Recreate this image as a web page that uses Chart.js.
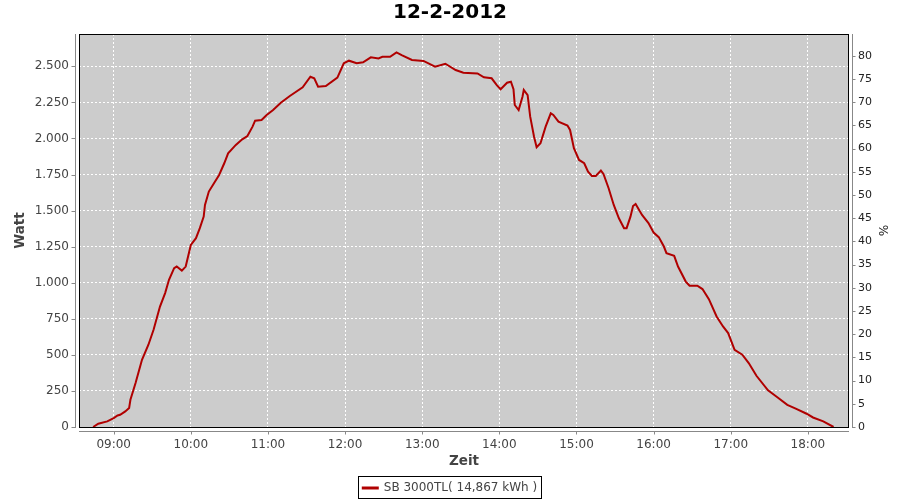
<!DOCTYPE html>
<html>
<head>
<meta charset="utf-8">
<title>12-2-2012</title>
<script src="https://cdn.jsdelivr.net/npm/chart.js@4.4.0/dist/chart.umd.min.js"></script>
<style>
  html, body { margin: 0; padding: 0; background: #fff; }
</style>
</head>
<body>
<canvas id="myChart" width="900" height="500"></canvas>
<script>
// values
const chartTitle = "12-2-2012";
const seriesName = "SB 3000TL( 14,867 kWh )";

const times = [
  "08:44", "08:48", "08:55", "09:00", "09:03", "09:05", "09:09", "09:12", "09:13", "09:17",
  "09:22", "09:27", "09:31", "09:36", "09:40", "09:43", "09:47", "09:49", "09:53", "09:56",
  "10:00", "10:04", "10:07", "10:10", "10:11", "10:14", "10:18", "10:22", "10:26", "10:29",
  "10:35", "10:40", "10:44", "10:48", "10:50", "10:55", "10:59", "11:04", "11:10", "11:17",
  "11:27", "11:33", "11:36", "11:39", "11:45", "11:54", "11:59", "12:03", "12:09", "12:14",
  "12:20", "12:26", "12:29", "12:35", "12:40", "12:44", "12:52", "13:01", "13:10", "13:18",
  "13:26", "13:32", "13:43", "13:48", "13:54", "13:58", "14:01", "14:06", "14:09", "14:11",
  "14:12", "14:15", "14:18", "14:19", "14:22", "14:24", "14:27", "14:29", "14:32", "14:36",
  "14:40", "14:42", "14:46", "14:53", "14:55", "14:58", "15:02", "15:06", "15:09", "15:12",
  "15:15", "15:19", "15:21", "15:25", "15:29", "15:33", "15:37", "15:39", "15:42", "15:44",
  "15:46", "15:51", "15:56", "16:00", "16:04", "16:08", "16:10", "16:16", "16:19", "16:25",
  "16:28", "16:34", "16:38", "16:43", "16:49", "16:54", "16:58", "17:03", "17:09", "17:14",
  "17:20", "17:29", "17:36", "17:44", "17:51", "17:59", "18:04", "18:12", "18:20"
];

const watt = [
  0, 23, 39, 62, 80, 85, 108, 132, 189, 305,
  466, 570, 674, 835, 928, 1020, 1101, 1112, 1084, 1112,
  1262, 1309, 1378, 1458, 1539, 1632, 1690, 1747, 1828, 1897,
  1955, 1994, 2017, 2082, 2123, 2128, 2163, 2197, 2248, 2294,
  2355, 2428, 2417, 2359, 2364, 2422, 2521, 2539, 2521, 2528,
  2562, 2555, 2566, 2566, 2597, 2578, 2544, 2537, 2497, 2518,
  2474, 2456, 2451, 2424, 2417, 2370, 2341, 2386, 2393, 2341,
  2232, 2197, 2289, 2336, 2301, 2151, 2012, 1939, 1967, 2082,
  2174, 2163, 2116, 2090, 2059, 1932, 1851, 1828, 1770, 1740,
  1740, 1777, 1754, 1655, 1539, 1447, 1378, 1378, 1458, 1532,
  1546, 1470, 1413, 1348, 1316, 1251, 1205, 1186, 1112, 1008,
  979, 979, 956, 886, 766, 697, 651, 535, 501, 443,
  355, 254, 208, 154, 125, 92, 66, 39, 0
];

const hourTicks = ["09:00", "10:00", "11:00", "12:00", "13:00", "14:00", "15:00", "16:00", "17:00", "18:00"];
const wattTicks = [0, 250, 500, 750, 1000, 1250, 1500, 1750, 2000, 2250, 2500];
const pctTicks = [0, 5, 10, 15, 20, 25, 30, 35, 40, 45, 50, 55, 60, 65, 70, 75, 80];
const timeRange = ["08:33", "18:32"];
const wattMax = 2724;
const pctMax = 84.7;

const toMin = (s) => {
  const [h, m] = s.split(":").map(Number);
  return h * 60 + m;
};
const fmtTime = (v) => {
  const h = Math.floor(v / 60);
  const m = Math.round(v % 60);
  return String(h).padStart(2, "0") + ":" + String(m).padStart(2, "0");
};
const fmtWatt = (v) => String(v).replace(/\B(?=(\d{3})+(?!\d))/g, ".");

const points = times.map((t, i) => ({ x: toMin(t), y: watt[i] }));

const FONT = "'DejaVu Sans', 'Liberation Sans', sans-serif";

// grey plot background, black frame, offset axis lines like the original
const framePlugin = {
  id: "frame",
  beforeDraw(chart) {
    const { ctx, chartArea: a } = chart;
    ctx.save();
    ctx.fillStyle = "#cccccc";
    ctx.fillRect(a.left, a.top, a.right - a.left, a.bottom - a.top);
    ctx.restore();
  },
  afterDraw(chart) {
    const { ctx, chartArea: a, scales } = chart;
    ctx.save();
    ctx.lineWidth = 1;
    ctx.strokeStyle = "#000";
    ctx.strokeRect(a.left + 0.5, a.top + 0.5, a.right - a.left - 1, a.bottom - a.top);

    ctx.strokeStyle = "#888";
    ctx.beginPath();
    // left axis
    const lx = a.left - 3.5;
    ctx.moveTo(lx, a.top);
    ctx.lineTo(lx, a.bottom + 1);
    scales.y.ticks.forEach((t) => {
      const py = Math.round(scales.y.getPixelForValue(t.value)) + 0.5;
      ctx.moveTo(lx, py);
      ctx.lineTo(lx - 4, py);
    });
    // right axis
    const rx = a.right + 3.5;
    ctx.moveTo(rx, a.top);
    ctx.lineTo(rx, a.bottom + 1);
    scales.y1.ticks.forEach((t) => {
      const py = Math.round(scales.y1.getPixelForValue(t.value)) + 0.5;
      ctx.moveTo(rx, py);
      ctx.lineTo(rx + 3, py);
    });
    // bottom axis
    const by = a.bottom + 4.5;
    ctx.moveTo(a.left, by);
    ctx.lineTo(a.right, by);
    scales.x.ticks.forEach((t) => {
      const px = Math.round(scales.x.getPixelForValue(t.value)) + 0.5;
      ctx.moveTo(px, by);
      ctx.lineTo(px, by + 3);
    });
    ctx.stroke();

    // box round the legend
    const hb = chart.legend.legendHitBoxes[0];
    if (hb) {
      ctx.strokeStyle = "#000";
      ctx.strokeRect(Math.round(hb.left) - 4.5, Math.round(hb.top) - 5.5, Math.round(hb.width) + 9, hb.height + 10);
    }
    ctx.restore();
  },
};

const ctx = document.getElementById("myChart").getContext("2d");
const myChart = new Chart(ctx, {
  type: "line",
  data: {
    datasets: [
      {
        label: seriesName,
        data: points,
        borderColor: "#b00000",
        backgroundColor: "#b00000",
        borderWidth: 2,
        pointRadius: 0,
        tension: 0,
        fill: false,
        yAxisID: "y",
      },
    ],
  },
  options: {
    responsive: false,
    animation: false,
    layout: { padding: { left: 0, right: 0, top: 0, bottom: -4 } },
    scales: {
      x: {
        type: "linear",
        position: "bottom",
        min: toMin(timeRange[0]),
        max: toMin(timeRange[1]),
        afterBuildTicks: (s) => {
          s.ticks = hourTicks.map((h) => ({ value: toMin(h) }));
        },
        afterFit: (s) => {
          s.height = 77 - s.chart.legend.height;
        },
        ticks: {
          autoSkip: false,
          maxRotation: 0,
          padding: 3,
          color: "#444",
          font: { family: FONT, size: 12 },
          callback: (v) => fmtTime(v),
        },
        grid: { color: "#ffffff", lineWidth: 1, tickLength: 8, tickColor: "rgba(0,0,0,0)" },
        border: { display: false, dash: [2, 2] },
        title: {
          display: true,
          text: "Zeit",
          color: "#444",
          font: { family: FONT, size: 13.5, weight: "bold" },
          padding: { top: 0, bottom: 2 },
        },
      },
      y: {
        type: "linear",
        position: "left",
        min: 0,
        max: wattMax,
        afterBuildTicks: (s) => {
          s.ticks = wattTicks.map((v) => ({ value: v }));
        },
        afterFit: (s) => {
          s.width = 79;
        },
        ticks: {
          autoSkip: false,
          padding: 2,
          color: "#444",
          font: { family: FONT, size: 12 },
          callback: (v) => fmtWatt(v),
        },
        grid: { color: "#ffffff", lineWidth: 1, tickLength: 8, tickColor: "rgba(0,0,0,0)" },
        border: { display: false, dash: [2, 2] },
        title: {
          display: true,
          text: "Watt",
          color: "#444",
          font: { family: FONT, size: 13.5, weight: "bold" },
          padding: { top: 12, bottom: 0 },
        },
      },
      y1: {
        type: "linear",
        position: "right",
        min: 0,
        max: pctMax,
        afterBuildTicks: (s) => {
          s.ticks = pctTicks.map((v) => ({ value: v }));
        },
        afterFit: (s) => {
          s.width = 51;
        },
        ticks: {
          autoSkip: false,
          padding: 1,
          color: "#222",
          font: { family: FONT, size: 11 },
        },
        grid: { display: false, drawOnChartArea: false, tickLength: 8, tickColor: "rgba(0,0,0,0)" },
        border: { display: false },
        title: {
          display: true,
          text: "%",
          color: "#222",
          font: { family: FONT, size: 12 },
          padding: { top: 11, bottom: 0 },
        },
      },
    },
    plugins: {
      title: {
        display: true,
        text: chartTitle,
        color: "#000",
        font: { family: FONT, size: 20, weight: "bold" },
        padding: { top: 1, bottom: 9 },
      },
      legend: {
        display: true,
        position: "bottom",
        labels: {
          boxWidth: 15,
          boxHeight: 1,
          padding: 10,
          color: "#444",
          font: { family: FONT, size: 12 },
        },
      },
      tooltip: { enabled: false },
    },
  },
  plugins: [framePlugin],
});
</script>
</body>
</html>
